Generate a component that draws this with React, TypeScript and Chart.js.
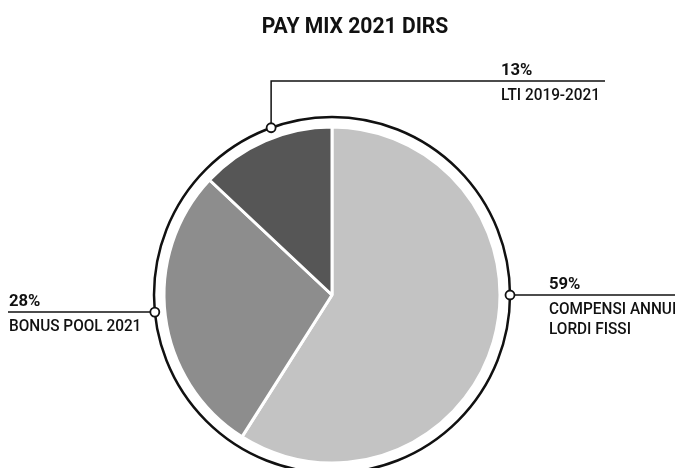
import React, { useEffect, useRef } from "react";
import { Chart, registerables } from "chart.js";

Chart.register(...registerables);

const TITLE = "PAY MIX 2021 DIRS";
const CATEGORIES = ["COMPENSI ANNUI LORDI FISSI", "BONUS POOL 2021", "LTI 2019-2021"];
const LABEL_LINES = [["COMPENSI ANNUI", "LORDI FISSI"], ["BONUS POOL 2021"], ["LTI 2019-2021"]];
const VALUES = [59, 28, 13];
const COLORS = ["#c3c3c3", "#8d8d8d", "#565656"];

// layout of the callouts (styling only)
const CALLOUTS = [
  { angle: 0, kind: "right", end: 675, textX: 549 },
  { angle: 174.5, kind: "left", end: 8, textX: 9 },
  { angle: 250, kind: "top", lineY: 81, end: 605, textX: 501 },
];

const FONT = "Roboto";

function drawText(ctx: CanvasRenderingContext2D, text: string, x: number, y: number, font: string, sx: number, align: CanvasTextAlign = "left") {
  ctx.save();
  ctx.font = font;
  ctx.textAlign = align;
  ctx.textBaseline = "alphabetic";
  ctx.translate(x, y);
  ctx.scale(sx, 1);
  ctx.fillStyle = "#111";
  ctx.fillText(text, 0, 0);
  ctx.restore();
}

const calloutPlugin = {
  id: "callouts",
  afterDraw(chart: any) {
    const ctx: CanvasRenderingContext2D = chart.ctx;
    const meta = chart.getDatasetMeta(0);
    const a0 = meta.data[0] as any;
    const cx = a0.x;
    const cy = a0.y;
    const r = a0.outerRadius;
    const ringR = r + 10;

    // title
    drawText(ctx, TITLE, 355, 33, `bold 22px ${FONT}`, 0.96, "center");

    ctx.save();
    ctx.strokeStyle = "#111";
    ctx.lineWidth = 2.5;
    ctx.beginPath();
    ctx.arc(cx, cy, ringR, 0, Math.PI * 2);
    ctx.stroke();
    ctx.restore();

    const total = VALUES.reduce((s, v) => s + v, 0);
    CALLOUTS.forEach((c, i) => {
      const ang = (c.angle * Math.PI) / 180;
      const mx = cx + ringR * Math.cos(ang);
      const my = cy + ringR * Math.sin(ang);
      const pct = Math.round((VALUES[i] / total) * 100) + "%";
      ctx.save();
      ctx.strokeStyle = "#111";
      ctx.lineWidth = 1.5;
      ctx.beginPath();
      let ly = my;
      if (c.kind === "top") {
        ly = c.lineY as number;
        ctx.moveTo(mx, my);
        ctx.lineTo(mx, ly);
        ctx.lineTo(c.end, ly);
      } else {
        ctx.moveTo(mx, my);
        ctx.lineTo(c.end, my);
      }
      ctx.stroke();
      // marker
      ctx.beginPath();
      ctx.arc(mx, my, 4.5, 0, Math.PI * 2);
      ctx.fillStyle = "#fff";
      ctx.fill();
      ctx.lineWidth = 1.8;
      ctx.stroke();
      ctx.restore();

      drawText(ctx, pct, c.textX, ly - 6, `bold 17px ${FONT}`, 0.98);
      LABEL_LINES[i].forEach((t, k) => {
        drawText(ctx, t, c.textX, ly + 19 + k * 20, `500 16px ${FONT}`, 0.96);
      });
    });
  },
};

export default function App() {
  const ref = useRef<HTMLCanvasElement | null>(null);
  useEffect(() => {
    if (!ref.current) return;
    const chart = new Chart(ref.current, {
      type: "pie",
      data: {
        labels: CATEGORIES,
        datasets: [
          {
            data: VALUES,
            backgroundColor: COLORS,
            borderColor: "#ffffff",
            borderWidth: 3,
            radius: 168,
          } as any,
        ],
      },
      options: {
        responsive: false,
        animation: false,
        layout: { padding: { left: 0, right: 11, top: 122, bottom: 0 } },
        plugins: {
          legend: { display: false },
          title: { display: false },
          tooltip: { enabled: false },
        },
      },
      plugins: [calloutPlugin],
    });
    return () => chart.destroy();
  }, []);
  return (
    <div style={{ position: "fixed", left: 0, top: 0, width: 675, height: 468, background: "#fff" }}>
      <canvas ref={ref} width={675} height={468} />
    </div>
  );
}
